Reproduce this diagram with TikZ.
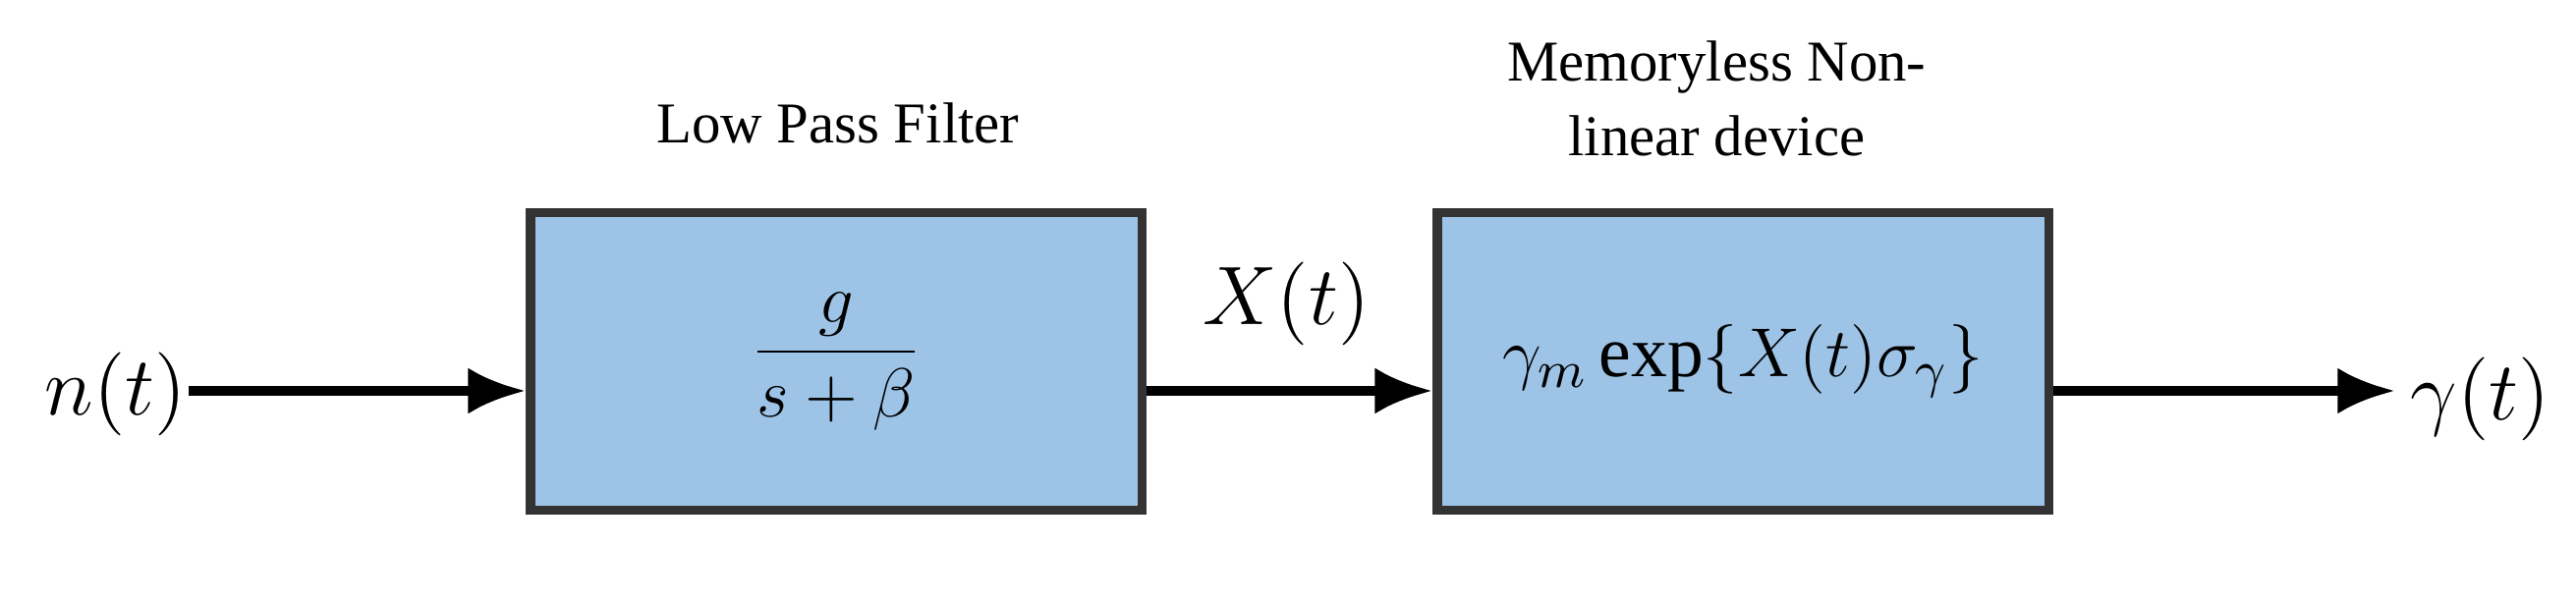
\documentclass[tikz,border=0pt]{standalone}
\usepackage{fontspec}
\setmainfont{Liberation Serif}
\usetikzlibrary{arrows.meta}
\definecolor{boxfill}{RGB}{157,195,230}
\begin{document}
\begin{tikzpicture}[x=0.01cm,y=-0.01cm,
  blk/.style={draw=black!80,line width=1.6pt,fill=boxfill,minimum width=3.72cm,minimum height=1.81cm,inner sep=0pt,font=\fontsize{12.5}{15}\selectfont},
  arr/.style={line width=1.6pt,-{Latex[length=10pt,width=8pt]}},
  ttl/.style={font=\fontsize{10}{13}\selectfont,align=center},
  mth/.style={font=\fontsize{14}{16}\selectfont}]
\useasboundingbox (0,0) rectangle (1568,367);
\node[blk] (lpf) at (509,220) {$\displaystyle\frac{g}{s+\beta}$};
\node[blk] (nl) at (1061,220) {$\gamma_m\exp\{X(t)\sigma_\gamma\}$};
\node[mth,anchor=west] (n) at (15,240) {$n(t)$};
\node[mth] (g) at (1510,243) {$\gamma(t)$};
\coordinate (nend) at (115,238);
\coordinate (gend) at (1458,238);
\node[mth] (x) at (783,185) {$X(t)$};
\node[ttl] (t1) at (510,75) {Low Pass Filter};
\node[ttl] (t2) at (1045,60) {Memoryless Non-\\linear device};
\draw[arr] (nend) -- (nend -| lpf.west);
\draw[arr] (nend -| lpf.east) -- (nend -| nl.west);
\draw[arr] (nend -| nl.east) -- (gend);
\end{tikzpicture}
\end{document}
